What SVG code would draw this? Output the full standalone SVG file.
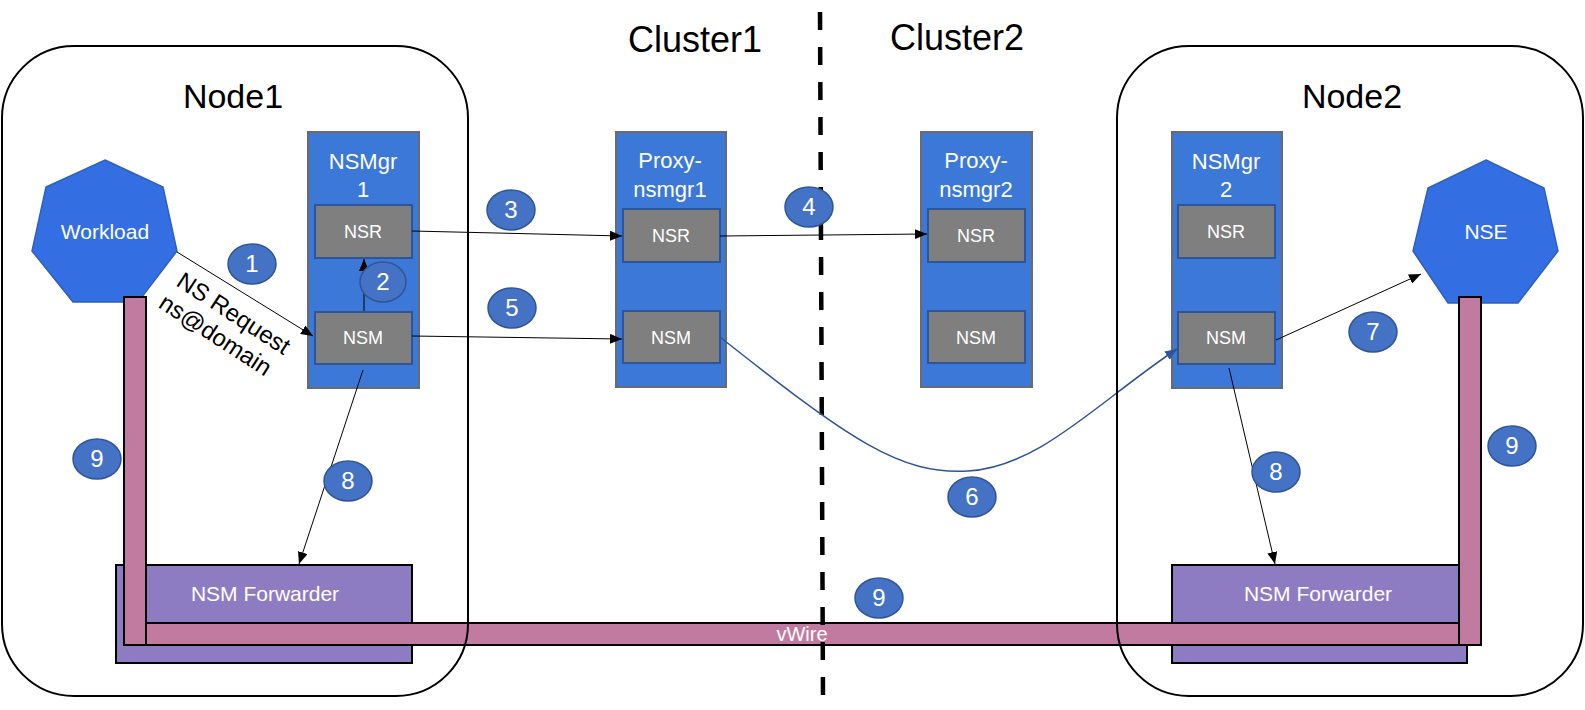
<svg xmlns="http://www.w3.org/2000/svg" width="1585" height="710" viewBox="0 0 1585 710">
<style>
text { font-family: "Liberation Sans", Arial, sans-serif; }
.title { font-size: 34px; fill: #000; text-anchor: middle; }
.ctitle { font-size: 36px; fill: #000; text-anchor: middle; }
.mgr { fill: #3C78D8; stroke: #6B6B6B; stroke-width: 2; }
.mgrt { font-size: 22px; fill: #fff; text-anchor: middle; }
.sub { fill: #7F7F7F; stroke: #2F5597; stroke-width: 2; }
.subt { font-size: 18px; fill: #fff; text-anchor: middle; }
.hept { fill: #336FE2; stroke: #2F5FBF; stroke-width: 1.5; }
.hept-t { font-size: 21px; fill: #fff; text-anchor: middle; }
.fwd { fill: #8E7CC3; stroke: #000; stroke-width: 2; }
.fwdt { font-size: 21px; fill: #fff; text-anchor: middle; }
.wire { fill: #C27BA0; stroke: #000; stroke-width: 2; }
.node { fill: none; stroke: #000; stroke-width: 2; }
.conn { fill: none; stroke: #000; stroke-width: 1; marker-end: url(#ah); }
.conn6 { fill: none; stroke: #2F5597; stroke-width: 1.5; marker-end: url(#ahb); }
.step ellipse { fill: #4472C4; stroke: #2F5597; stroke-width: 1.5; }
.step text { font-size: 24px; fill: #fff; text-anchor: middle; }
</style>
<defs>
<marker id="ah" viewBox="0 0 12 10" refX="12" refY="5" markerWidth="12" markerHeight="10" markerUnits="userSpaceOnUse" orient="auto"><path d="M0,0 L12,5 L0,10 z" fill="#000"/></marker>
<marker id="ahb" viewBox="0 0 12 10" refX="12" refY="5" markerWidth="12" markerHeight="10" markerUnits="userSpaceOnUse" orient="auto"><path d="M0,0 L12,5 L0,10 z" fill="#2F5597"/></marker>
</defs>
<rect width="1585" height="710" fill="#fff"/>

<g id="workload">
<polygon class="hept" points="105,160 163,187 177,251 138,302 73,302 32,251 46,187"/>
<text class="hept-t" x="105" y="239">Workload</text>
</g>
<g id="nse">
<polygon class="hept" points="1486,160 1544,188 1558,251 1518,303 1448,303 1413,251 1428,188"/>
<text class="hept-t" x="1486" y="239">NSE</text>
</g>

<g id="forwarder1">
<rect class="fwd" x="116" y="565" width="296" height="98"/>
<text class="fwdt" x="265" y="601">NSM Forwarder</text>
</g>
<g id="forwarder2">
<rect class="fwd" x="1172" y="565" width="295" height="98"/>
<text class="fwdt" x="1318" y="601">NSM Forwarder</text>
</g>

<g id="vwire">
<rect class="wire" x="124" y="623" width="1335" height="22"/>
<rect class="wire" x="124" y="297" width="22" height="348"/>
<rect class="wire" x="1459" y="297" width="22" height="348"/>
<text x="802" y="641" style="font-size:20px;fill:#fff;text-anchor:middle">vWire</text>
</g>

<g id="nsmgr1">
<rect class="mgr" x="308" y="132" width="111" height="256"/>
<text class="mgrt" x="363" y="169">NSMgr</text>
<text class="mgrt" x="363" y="197">1</text>
<rect class="sub" x="315" y="205" width="97" height="53"/>
<text class="subt" x="363" y="238">NSR</text>
<rect class="sub" x="315" y="312" width="97" height="52"/>
<text class="subt" x="363" y="344">NSM</text>
</g>
<g id="proxy1">
<rect class="mgr" x="616" y="132" width="110" height="255"/>
<text class="mgrt" x="670" y="168">Proxy-</text>
<text class="mgrt" x="670" y="197">nsmgr1</text>
<rect class="sub" x="623" y="209" width="97" height="53"/>
<text class="subt" x="671" y="242">NSR</text>
<rect class="sub" x="623" y="311" width="97" height="52"/>
<text class="subt" x="671" y="344">NSM</text>
</g>
<g id="proxy2">
<rect class="mgr" x="921" y="132" width="111" height="255"/>
<text class="mgrt" x="976" y="168">Proxy-</text>
<text class="mgrt" x="976" y="197">nsmgr2</text>
<rect class="sub" x="928" y="209" width="97" height="53"/>
<text class="subt" x="976" y="242">NSR</text>
<rect class="sub" x="928" y="311" width="97" height="52"/>
<text class="subt" x="976" y="344">NSM</text>
</g>
<g id="nsmgr2">
<rect class="mgr" x="1172" y="132" width="110" height="256"/>
<text class="mgrt" x="1226" y="169">NSMgr</text>
<text class="mgrt" x="1226" y="197">2</text>
<rect class="sub" x="1178" y="205" width="97" height="53"/>
<text class="subt" x="1226" y="238">NSR</text>
<rect class="sub" x="1178" y="312" width="97" height="52"/>
<text class="subt" x="1226" y="344">NSM</text>
</g>

<g id="divider">
<line x1="820" y1="12" x2="823" y2="700" stroke="#000" stroke-width="4.5" stroke-dasharray="18 17"/>
</g>

<g id="connectors">
<line class="conn" x1="177" y1="252" x2="313" y2="336"/>
<line class="conn" x1="364" y1="311" x2="364" y2="259"/>
<line class="conn" x1="412" y1="231" x2="622" y2="236"/>
<line class="conn" x1="720" y1="236" x2="927" y2="234"/>
<line class="conn" x1="412" y1="336" x2="622" y2="339"/>
<path class="conn6" d="M720,337 C850,440 900,475 968,471 C1040,467 1100,400 1177,349"/>
<line class="conn" x1="1276" y1="340" x2="1421" y2="274"/>
<line class="conn" x1="363" y1="370" x2="299" y2="564"/>
<line class="conn" x1="1229" y1="368" x2="1275" y2="564"/>
<text transform="translate(175,285) rotate(33)" style="font-size:24px;fill:#000"><tspan x="0" y="0">NS Request</tspan><tspan x="-3" y="28">ns@domain</tspan></text>
</g>

<g id="steps" class="step">
<g id="s1"><ellipse cx="252" cy="264" rx="24" ry="20"/><text x="252" y="272">1</text></g>
<g id="s2"><ellipse cx="383" cy="282" rx="23" ry="20"/><text x="383" y="290">2</text></g>
<g id="s3"><ellipse cx="511" cy="210" rx="24" ry="20"/><text x="511" y="218">3</text></g>
<g id="s4"><ellipse cx="809" cy="207" rx="24" ry="20"/><text x="809" y="215">4</text></g>
<g id="s5"><ellipse cx="512" cy="308" rx="24" ry="20"/><text x="512" y="316">5</text></g>
<g id="s6"><ellipse cx="972" cy="497" rx="24" ry="20"/><text x="972" y="505">6</text></g>
<g id="s7"><ellipse cx="1373" cy="332" rx="24" ry="20"/><text x="1373" y="340">7</text></g>
<g id="s8a"><ellipse cx="348" cy="481" rx="24" ry="20"/><text x="348" y="489">8</text></g>
<g id="s8b"><ellipse cx="1276" cy="472" rx="24" ry="20"/><text x="1276" y="480">8</text></g>
<g id="s9a"><ellipse cx="97" cy="459" rx="24" ry="20"/><text x="97" y="467">9</text></g>
<g id="s9b"><ellipse cx="879" cy="598" rx="24" ry="20"/><text x="879" y="606">9</text></g>
<g id="s9c"><ellipse cx="1512" cy="446" rx="24" ry="20"/><text x="1512" y="454">9</text></g>
</g>

<g id="node1">
<rect class="node" x="2" y="46" width="466" height="650" rx="72" ry="72"/>
<text class="title" x="233" y="108">Node1</text>
</g>
<g id="node2">
<rect class="node" x="1117" y="46" width="466" height="650" rx="72" ry="72"/>
<text class="title" x="1352" y="108">Node2</text>
</g>
<g id="clusters">
<text class="ctitle" x="695" y="52">Cluster1</text>
<text class="ctitle" x="957" y="50">Cluster2</text>
</g>
</svg>
